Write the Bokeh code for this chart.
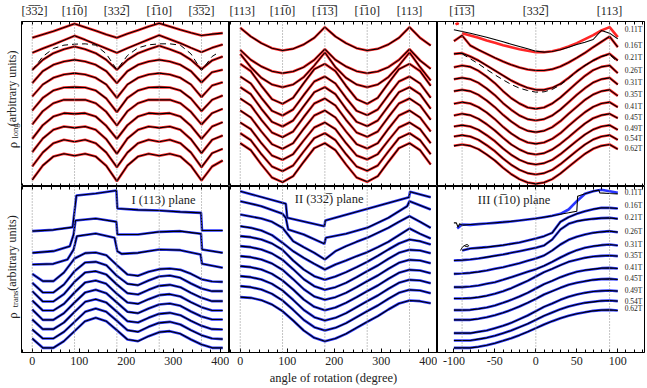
import math
from bokeh.plotting import figure
from bokeh.models import Range1d, LinearAxis, Span, Label, FixedTicker
from bokeh.core.properties import value
from bokeh.layouts import row, column
from bokeh.embed import file_html
from bokeh.resources import INLINE

FONT = "Liberation Serif"
TXT = "#222222"
RED = "#ff1a1a"
BLUE = "#1f2bff"

# ---------------- data ----------------
fields = ["0.11T", "0.16T", "0.21T", "0.26T", "0.31T", "0.35T", "0.41T", "0.45T", "0.49T", "0.54T", "0.62T"]

ang12 = [0, 22.5, 45, 67.5, 90, 112.5, 135, 157.5, 180, 202.5, 225, 247.5, 270, 292.5, 315, 337.5, 360, 382.5, 405]
ang3 = [-100, -90, -80, -70, -60, -50, -40, -30, -20, -10, 0, 10, 20, 30, 40, 50, 60, 70, 80, 90, 100]

# panel I, longitudinal
p1t = [
    [446, 456, 466, 477, 488, 478, 467, 456, 446, 458, 469, 480, 490, 480, 470, 461, 453, 457, 460],
    [401, 414, 426, 439, 452, 440, 427, 414, 401, 415, 428, 441, 454, 442, 430, 416, 403, 416, 426],
    [350, 380, 400, 412, 420, 412, 400, 380, 350, 380, 400, 412, 422, 412, 400, 380, 352, 378, 390],
    [310, 346, 365, 375, 380, 375, 365, 346, 310, 346, 365, 375, 380, 375, 365, 346, 312, 343, 350],
    [270, 306, 326, 336, 340, 336, 326, 306, 266, 306, 326, 336, 340, 336, 326, 306, 268, 303, 313],
    [228, 266, 288, 297, 298, 297, 288, 264, 223, 266, 288, 297, 298, 297, 288, 264, 226, 260, 273],
    [186, 226, 250, 260, 260, 260, 250, 224, 183, 226, 250, 260, 260, 260, 250, 224, 186, 220, 233],
    [143, 184, 210, 220, 218, 220, 210, 182, 143, 184, 210, 220, 218, 220, 210, 182, 143, 180, 193],
    [103, 144, 170, 180, 176, 180, 170, 142, 98, 144, 170, 180, 176, 180, 170, 142, 100, 140, 153],
    [60, 102, 130, 140, 134, 140, 130, 102, 58, 102, 130, 140, 134, 140, 130, 102, 58, 100, 113],
    [20, 63, 90, 98, 92, 98, 90, 62, 16, 63, 90, 98, 92, 98, 90, 62, 18, 60, 78],
]
p1t_dash_ang = [0, 22.5, 45, 67.5, 90, 112.5, 135, 157.5, 180, 202.5, 225, 247.5, 270, 292.5, 315, 337.5, 360, 382.5, 397]
p1t_dash = [348, 390, 414, 424, 427, 428, 424, 398, 350, 393, 416, 425, 428, 428, 424, 398, 348, 390, 403]

# panel II, longitudinal
p2t = [
    [476, 450, 430, 415, 408, 413, 426, 446, 478, 450, 430, 415, 408, 413, 426, 446, 478, 446, 423],
    [410, 380, 360, 346, 340, 345, 358, 380, 412, 380, 360, 346, 340, 345, 358, 380, 412, 378, 353],
    [398, 358, 326, 306, 298, 306, 328, 363, 402, 358, 326, 306, 298, 306, 328, 363, 402, 358, 318],
    [368, 346, 302, 262, 248, 266, 310, 352, 368, 346, 302, 262, 248, 266, 310, 352, 368, 346, 302],
    [330, 309, 266, 227, 213, 231, 274, 315, 330, 309, 266, 227, 214, 231, 274, 315, 330, 309, 266],
    [298, 277, 233, 194, 180, 198, 241, 283, 298, 277, 233, 194, 181, 198, 241, 283, 298, 277, 233],
    [264, 243, 200, 162, 148, 165, 208, 249, 264, 243, 200, 162, 149, 165, 208, 249, 264, 243, 200],
    [228, 207, 165, 127, 113, 130, 173, 213, 228, 207, 165, 127, 114, 130, 173, 213, 228, 207, 165],
    [192, 172, 130, 93, 80, 97, 138, 177, 192, 172, 130, 93, 81, 97, 138, 177, 192, 172, 130],
    [160, 139, 97, 60, 46, 63, 105, 145, 160, 139, 97, 60, 47, 63, 105, 145, 160, 139, 97],
    [130, 109, 66, 27, 13, 31, 74, 115, 130, 109, 66, 27, 14, 31, 74, 115, 130, 109, 66],
]

# panel III, longitudinal
p3t_c1_blob_ang = [-98, -96, -94]
p3t_c1_blob = [486, 489, 487]
p3t_c1_meas_ang = [-90, -80, -70, -60, -50, -40, -30, -20, -10, 0, 10, 20, 30, 40, 50, 60, 70, 80, 90, 100]
p3t_c1_meas = [460, 453, 446, 438, 431, 424, 418, 412, 407, 403, 403, 406, 412, 420, 430, 442, 454, 468, 478, 448]
p3t_c1_fit = [470, 465, 460, 454, 448, 441, 434, 427, 420, 413, 406, 403, 405, 410, 418, 426, 433, 441, 468, 460, 443]
p3t = [
    [436, 453, 423, 410, 398, 386, 375, 365, 357, 351, 348, 348, 352, 360, 372, 386, 401, 418, 434, 450, 418],
    [398, 400, 390, 378, 363, 348, 333, 318, 306, 296, 290, 290, 296, 308, 326, 346, 363, 378, 390, 398, 378],
    [358, 363, 359, 347, 330, 310, 286, 265, 249, 237, 233, 237, 249, 267, 289, 311, 332, 349, 359, 363, 340],
    [322, 326, 322, 311, 294, 274, 250, 230, 213, 202, 198, 202, 213, 231, 253, 275, 295, 312, 322, 326, 306],
    [286, 290, 286, 275, 258, 238, 215, 195, 178, 167, 163, 167, 178, 196, 218, 239, 260, 276, 286, 290, 272],
    [248, 253, 249, 238, 222, 202, 179, 159, 143, 132, 128, 132, 143, 160, 182, 203, 223, 239, 249, 253, 238],
    [213, 218, 214, 203, 187, 168, 146, 126, 111, 100, 96, 100, 111, 128, 148, 169, 189, 205, 214, 218, 205],
    [180, 184, 180, 170, 154, 136, 114, 95, 80, 70, 66, 70, 80, 97, 117, 137, 156, 171, 180, 184, 170],
    [150, 154, 150, 140, 124, 106, 84, 65, 50, 40, 36, 40, 50, 67, 87, 107, 126, 141, 150, 154, 140],
    [122, 126, 122, 112, 96, 78, 56, 37, 22, 12, 8, 12, 22, 39, 59, 79, 98, 113, 122, 126, 112],
]
p3t_dash_ang = [-90, -80, -70, -60, -50, -40, -30, -20, -10, 0, 10, 20, 30, 40, 50, 60, 70, 80, 90, 100]
p3t_dash = [398, 383, 368, 351, 335, 320, 306, 295, 288, 283, 284, 291, 305, 324, 345, 363, 378, 390, 396, 373]

# panel I, transverse
p1b_c1_ang = [0, 45, 86, 90, 94, 135, 179, 181, 225, 270, 315, 359, 361, 405]
p1b_c1 = [364, 368, 376, 424, 471, 477, 486, 432, 428, 426, 422, 419, 366, 366]
p1b_c2_ang = [0, 45, 80, 88, 92, 135, 179, 181, 225, 270, 315, 359, 361, 405]
p1b_c2 = [299, 304, 319, 354, 396, 402, 392, 354, 354, 362, 364, 356, 309, 299]
p1b_c3_ang = [0, 45, 75, 88, 95, 135, 175, 181, 190, 225, 270, 315, 358, 361, 405]
p1b_c3 = [264, 266, 279, 309, 349, 357, 344, 304, 296, 299, 309, 307, 294, 266, 254]
p1b = [
    [236, 214, 214, 240, 282, 298, 300, 292, 262, 234, 230, 242, 250, 252, 248, 236, 220, 213, 212],
    [209, 180, 180, 204, 244, 270, 272, 262, 230, 206, 202, 216, 228, 231, 224, 207, 192, 184, 184],
    [184, 153, 153, 175, 212, 240, 244, 234, 204, 178, 174, 188, 200, 203, 196, 179, 164, 154, 154],
    [156, 126, 126, 146, 180, 210, 216, 206, 176, 150, 146, 160, 172, 175, 168, 151, 136, 126, 126],
    [129, 98, 98, 118, 150, 180, 188, 178, 150, 122, 118, 132, 144, 147, 140, 123, 108, 99, 99],
    [99, 70, 70, 90, 122, 152, 160, 150, 122, 94, 90, 104, 116, 119, 112, 95, 80, 70, 69],
    [69, 42, 42, 62, 92, 122, 132, 122, 95, 67, 62, 77, 89, 92, 84, 67, 52, 42, 40],
    [42, 14, 14, 34, 64, 94, 104, 94, 67, 39, 34, 49, 61, 64, 56, 39, 24, 14, 14],
]

# panel II, transverse
p2b_c1_ang = [0, 97, 100, 179, 181, 359, 361, 405]
p2b_c1 = [484, 446, 404, 379, 396, 466, 482, 466]
p2b_c2_ang = [0, 45, 90, 97, 102, 135, 179, 182, 225, 270, 315, 355, 360, 405]
p2b_c2 = [454, 439, 416, 404, 369, 354, 326, 344, 356, 374, 404, 439, 454, 429]
p2b = [
    [414, 408, 402, 392, 374, 334, 316, 299, 279, 304, 319, 332, 344, 359, 374, 392, 409, 392, 374],
    [379, 374, 366, 352, 329, 304, 284, 266, 249, 264, 276, 289, 301, 316, 332, 352, 372, 356, 342],
    [349, 346, 339, 327, 308, 276, 249, 229, 218, 228, 241, 256, 272, 290, 309, 327, 339, 334, 324],
    [319, 316, 309, 297, 278, 250, 220, 199, 188, 196, 209, 226, 244, 261, 281, 299, 308, 306, 298],
    [289, 286, 279, 267, 248, 220, 190, 168, 158, 166, 179, 196, 214, 231, 251, 269, 278, 276, 268],
    [259, 256, 249, 236, 216, 189, 159, 137, 127, 135, 149, 166, 184, 201, 221, 239, 248, 246, 238],
    [229, 226, 219, 206, 186, 158, 128, 106, 96, 104, 118, 136, 154, 171, 191, 209, 218, 216, 208],
    [199, 196, 189, 176, 156, 128, 98, 76, 66, 74, 88, 106, 124, 141, 161, 179, 188, 186, 178],
    [166, 164, 157, 144, 124, 96, 66, 44, 34, 42, 56, 74, 92, 109, 129, 147, 156, 154, 148],
]

# panel III, transverse
p3b_c1_ang = [-96, -90, -80, -70, -60, -50, -40, -30, -20, -10, 0, 10, 20, 30, 40, 50, 60, 70, 80, 90, 100]
p3b_c1_meas = [372, 384, 383, 385, 387, 389, 391, 393, 396, 399, 402, 406, 410, 416, 429, 454, 476, 484, 488, 484, 479]
p3b_c1_fit_ang = [-100, -97, -95, -93, -90, -80, -60, -40, -20, 0, 20, 40, 50, 51, 60, 70, 77, 78, 90, 100]
p3b_c1_fit = [389, 389, 376, 386, 382, 384, 387, 391, 396, 402, 410, 419, 424, 469, 476, 484, 487, 479, 477, 476]
p3b_c2_ang = [-90, -80, -70, -60, -50, -40, -30, -20, -10, 0, 10, 20, 30, 40, 50, 60, 70, 80, 90, 100]
p3b_c2 = [306, 312, 314, 316, 319, 322, 326, 330, 336, 342, 349, 359, 392, 406, 416, 424, 430, 434, 434, 432]
p3b_c2_loop_ang = [-92, -89, -86, -84, -82, -83, -85, -87]
p3b_c2_loop = [306, 318, 322, 324, 321, 317, 318, 320]
p3b = [
    [276, 277, 279, 282, 286, 290, 294, 299, 304, 309, 314, 321, 339, 369, 386, 394, 398, 401, 403, 404, 401],
    [236, 237, 239, 242, 246, 251, 256, 262, 268, 275, 282, 291, 306, 324, 338, 347, 354, 359, 362, 364, 361],
    [196, 196, 198, 201, 206, 211, 218, 226, 234, 242, 250, 260, 272, 285, 297, 307, 314, 319, 322, 324, 321],
    [162, 162, 163, 166, 170, 176, 184, 193, 204, 215, 228, 241, 251, 262, 272, 278, 284, 288, 290, 291, 289],
    [127, 127, 128, 131, 135, 141, 149, 158, 168, 179, 192, 205, 215, 226, 235, 242, 247, 250, 253, 254, 252],
    [98, 98, 98, 101, 106, 112, 119, 128, 138, 149, 161, 174, 184, 194, 203, 209, 214, 218, 220, 221, 219],
    [58, 58, 58, 62, 66, 73, 80, 89, 100, 111, 124, 137, 147, 158, 167, 174, 179, 183, 185, 186, 184],
    [36, 36, 36, 40, 44, 50, 58, 66, 76, 86, 98, 110, 120, 130, 138, 144, 149, 152, 155, 156, 154],
    [14, 14, 14, 17, 22, 28, 35, 43, 52, 62, 73, 84, 94, 103, 110, 116, 121, 125, 127, 128, 126],
]

dirs1 = [(0, "[3\u03053\u03052]"), (90, "[11\u03050]"), (180, "[332\u0305]"), (270, "[1\u030510]"), (360, "[3\u03053\u03052]")]
dirs2 = [(0, "[113]"), (90, "[11\u03050]"), (180, "[1\u03051\u03053\u0305]"), (270, "[1\u030510]"), (360, "[113]")]
dirs3 = [(-90, "[1\u03051\u03053\u0305]"), (0, "[332\u0305]"), (90, "[113]")]

XR12 = (-22.8, 419.5)
XR3 = (-120.0, 132.6)
YRT = (0, 495)
YRB = (0, 498)

major12 = [0, 100, 200, 300, 400]
minor12 = list(range(-20, 421, 20))
major3 = [-100, -50, 0, 50, 100]
minor3 = list(range(-120, 131, 10))


def tick_axis(major, minor, labels):
    if labels:
        ax = LinearAxis(ticker=FixedTicker(ticks=major, minor_ticks=minor))
        ax.major_label_text_font = FONT
        ax.major_label_text_font_size = "12px"
        ax.major_label_text_color = TXT
        ax.major_label_standoff = 4
        ax.major_label_overrides = {t: str(t) for t in major}
    else:
        # ticks only, no labels at all
        ax = LinearAxis(ticker=FixedTicker(ticks=[], minor_ticks=minor))
        ax.major_label_standoff = 0
    ax.major_tick_in = 4
    ax.major_tick_out = 0
    ax.minor_tick_in = 3
    ax.minor_tick_out = 0
    ax.axis_line_color = "black"
    ax.major_tick_line_color = "black"
    ax.minor_tick_line_color = "black"
    return ax


def panel(xr, yr, fw, fh, br, bt, bb, major, minor, labels, dirs=None):
    p = figure(x_range=Range1d(*xr), y_range=Range1d(*yr),
               width=fw + br, height=bt + fh + bb,
               min_border_left=0, min_border_right=br, min_border_top=bt, min_border_bottom=bb,
               output_backend="svg", toolbar_location=None,
               x_axis_location=None, y_axis_location=None)
    p.xgrid.visible = False
    p.ygrid.visible = False
    p.outline_line_color = "black"
    p.outline_line_width = 1
    p.background_fill_color = "white"
    p.border_fill_color = "white"
    p.add_layout(tick_axis(major, minor, labels), "below")
    p.add_layout(tick_axis(major, minor, False), "above")
    if dirs:
        dax = LinearAxis(ticker=FixedTicker(ticks=[a for a, _ in dirs], minor_ticks=[]))
        dax.major_label_overrides = {a: t for a, t in dirs}
        dax.axis_line_color = None
        dax.major_tick_line_color = None
        dax.minor_tick_line_color = None
        dax.major_tick_in = 0
        dax.major_tick_out = 0
        dax.major_label_text_font = FONT
        dax.major_label_text_font_size = "12px"
        dax.major_label_text_color = TXT
        dax.major_label_standoff = 4
        p.add_layout(dax, "above")
    return p


def guides(p, locs):
    for a in locs:
        p.add_layout(Span(location=a, dimension="height", line_color="#8a8a8a",
                          line_dash="1 2", line_width=1))


def curve(p, x, ym, color, yf=None, xf=None):
    p.line(x, ym, line_color=color, line_width=2.6, line_alpha=0.95)
    p.line(xf if xf is not None else x, yf if yf is not None else ym,
           line_color="black", line_width=1.1)


def lab(p, x, y, text, size="12px", align="center", angle=0.0, base="middle"):
    p.add_layout(Label(x=x, y=y, text=text, text_font=FONT, text_font_size=size,
                       text_color=TXT, text_align=align, text_baseline=base, angle=angle))


def ylabel_fig(h, sub, y_rho, y_sub, y_par):
    f = figure(width=21, height=h, x_range=Range1d(0, 21), y_range=Range1d(0, h),
               min_border=0, output_backend="svg", toolbar_location=None,
               x_axis_location=None, y_axis_location=None)
    f.xgrid.visible = False
    f.ygrid.visible = False
    f.outline_line_color = None
    f.background_fill_color = "white"
    f.border_fill_color = "white"
    rot = math.pi / 2
    f.text(x=[12], y=[y_rho], text=["\u03c1"], angle=rot, text_font=value(FONT),
           text_font_size="13px", text_color=TXT, text_align="left", text_baseline="middle")
    f.text(x=[14], y=[y_sub], text=[sub], angle=rot, text_font=value(FONT),
           text_font_size="8.5px", text_color=TXT, text_align="left", text_baseline="middle")
    f.text(x=[11.5], y=[y_par], text=["(arbitrary units)"], angle=rot, text_font=value(FONT),
           text_font_size="12px", text_color=TXT, text_align="left", text_baseline="middle")
    return f


# --- top row ---
p1 = panel(XR12, YRT, 208, 165, 0, 21, 0, major12, minor12, False, dirs1)
p2 = panel(XR12, YRT, 208, 165, 0, 21, 0, major12, minor12, False, dirs2)
p3 = panel(XR3, YRT, 207, 165, 3, 21, 0, major3, minor3, False, dirs3)
# --- bottom row ---
p4 = panel(XR12, YRB, 208, 166, 0, 0, 36, major12, minor12, True)
p5 = panel(XR12, YRB, 208, 166, 0, 0, 36, major12, minor12, True)
p6 = panel(XR3, YRB, 207, 166, 3, 0, 36, major3, minor3, True)

yl1 = ylabel_fig(186, "long", 43, 54, 68)
yl2 = ylabel_fig(202, "trans", 41, 55, 75)

for p in (p1, p2, p4, p5):
    guides(p, [0, 90, 180, 270, 360])
for p in (p3, p6):
    guides(p, [-90, 0, 90])

# panel I long
for ys in p1t:
    curve(p1, ang12, ys, RED)
p1.line(p1t_dash_ang, p1t_dash, line_color="black", line_width=1.0, line_dash="6 4")
# panel II long
for ys in p2t:
    curve(p2, ang12, ys, RED)
# panel III long
p3.line(p3t_c1_blob_ang, p3t_c1_blob, line_color=RED, line_width=2.6)
p3.line(p3t_c1_meas_ang, p3t_c1_meas, line_color=RED, line_width=2.6, line_alpha=0.95)
p3.line(ang3, p3t_c1_fit, line_color="black", line_width=1.1)
for ys in p3t:
    curve(p3, ang3, ys, RED)
p3.line(p3t_dash_ang, p3t_dash, line_color="black", line_width=1.0, line_dash="6 4")

# panel I trans
curve(p4, p1b_c1_ang, p1b_c1, BLUE)
curve(p4, p1b_c2_ang, p1b_c2, BLUE)
curve(p4, p1b_c3_ang, p1b_c3, BLUE)
for ys in p1b:
    curve(p4, ang12, ys, BLUE)
# panel II trans
curve(p5, p2b_c1_ang, p2b_c1, BLUE)
curve(p5, p2b_c2_ang, p2b_c2, BLUE)
for ys in p2b:
    curve(p5, ang12, ys, BLUE)
# panel III trans
curve(p6, p3b_c1_ang, p3b_c1_meas, BLUE, yf=p3b_c1_fit, xf=p3b_c1_fit_ang)
curve(p6, p3b_c2_ang, p3b_c2, BLUE)
p6.line(p3b_c2_loop_ang, p3b_c2_loop, line_color="black", line_width=1.0)
for ys in p3b:
    curve(p6, ang3, ys, BLUE)

# field labels
lab_top = [470, 423, 386, 348, 313, 276, 240, 208, 173, 143, 115]
lab_bot = [479, 442, 404, 364, 324, 292, 254, 221, 186, 154, 132]
for t, yt, yb in zip(fields, lab_top, lab_bot):
    lab(p3, 119.2, yt, t, size="7.5px")
    lab(p6, 119.2, yb, t, size="7.5px")

# panel titles
lab(p4, 279, 459, "I (113) plane", size="12.5px")
lab(p5, 189, 462, "II (332\u0305) plane", size="12.5px")
lab(p6, -26.6, 459, "III (1\u030510) plane", size="12.5px")

# x axis label
p5.below[0].axis_label = "angle of rotation (degree)"
p5.below[0].axis_label_text_font = FONT
p5.below[0].axis_label_text_font_size = "12.5px"
p5.below[0].axis_label_text_font_style = "normal"
p5.below[0].axis_label_text_color = TXT
p5.below[0].axis_label_standoff = 3

page = column(row(yl1, p1, p2, p3, spacing=0), row(yl2, p4, p5, p6, spacing=0), spacing=0)

open("out.html", "w").write(file_html(page, INLINE))
